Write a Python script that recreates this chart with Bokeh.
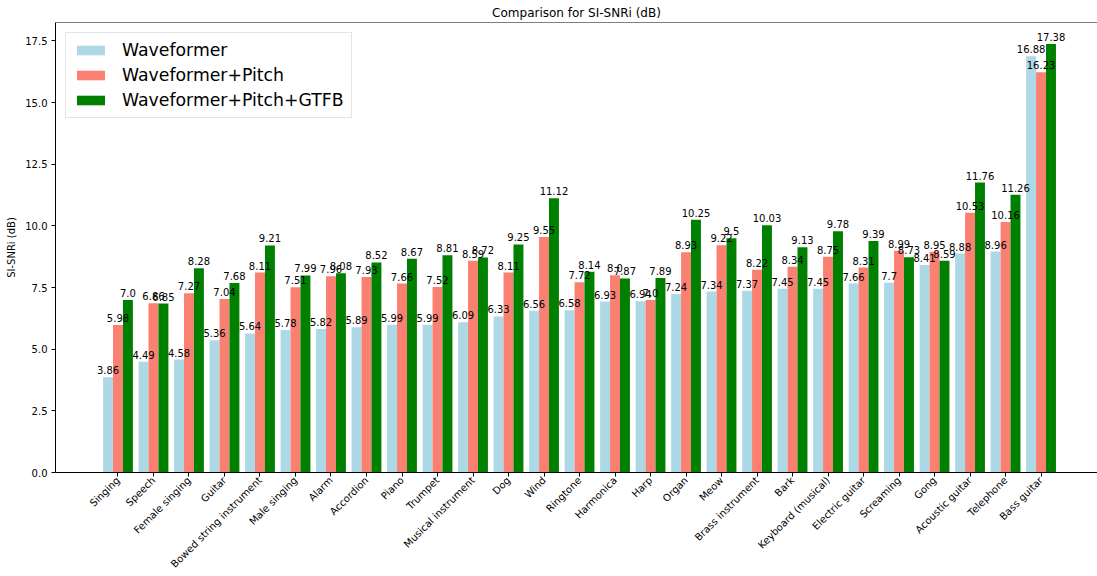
import numpy as np
from bokeh.plotting import figure
from bokeh.models import ColumnDataSource, Range1d, FixedTicker, Span, PrintfTickFormatter
from bokeh.transform import dodge
from bokeh.core.properties import value
from bokeh.embed import file_html
from bokeh.resources import INLINE

categories = ["Singing", "Speech", "Female singing", "Guitar", "Bowed string instrument",
              "Male singing", "Alarm", "Accordion", "Piano", "Trumpet", "Musical instrument",
              "Dog", "Wind", "Ringtone", "Harmonica", "Harp", "Organ", "Meow",
              "Brass instrument", "Bark", "Keyboard (musical)", "Electric guitar",
              "Screaming", "Gong", "Acoustic guitar", "Telephone", "Bass guitar"]
waveformer = [3.86, 4.49, 4.58, 5.36, 5.64, 5.78, 5.82, 5.89, 5.99, 5.99, 6.09, 6.33, 6.56,
              6.58, 6.93, 6.94, 7.24, 7.34, 7.37, 7.45, 7.45, 7.66, 7.7, 8.41, 8.88, 8.96, 16.88]
waveformer_pitch = [5.98, 6.86, 7.27, 7.04, 8.11, 7.51, 7.96, 7.93, 7.66, 7.52, 8.59, 8.11, 9.55,
                    7.72, 8.0, 7.0, 8.93, 9.22, 8.22, 8.34, 8.75, 8.31, 8.99, 8.95, 10.53, 10.16, 16.23]
waveformer_pitch_gtfb = [7.0, 6.85, 8.28, 7.68, 9.21, 7.99, 8.08, 8.52, 8.67, 8.81, 8.72, 9.25, 11.12,
                         8.14, 7.87, 7.89, 10.25, 9.5, 10.03, 9.13, 9.78, 9.39, 8.73, 8.59, 11.76, 11.26, 17.38]
series_names = ["Waveformer", "Waveformer+Pitch", "Waveformer+Pitch+GTFB"]
y_ticks = [0.0, 2.5, 5.0, 7.5, 10.0, 12.5, 15.0, 17.5]
title_text = "Comparison for SI-SNRi (dB)"
y_label = "SI-SNRi (dB)"

FONT = "DejaVu Sans"
BAR_W = 0.28
COLORS = ["#add8e6", "#fa8072", "#008000"]

n = len(categories)
src = ColumnDataSource(dict(
    x=list(range(n)),
    s0=waveformer, s1=waveformer_pitch, s2=waveformer_pitch_gtfb,
    l0=[str(v) for v in waveformer],
    l1=[str(v) for v in waveformer_pitch],
    l2=[str(v) for v in waveformer_pitch_gtfb],
))

ymax = max(max(waveformer), max(waveformer_pitch), max(waveformer_pitch_gtfb)) * 1.05

p = figure(width=1097, height=576, output_backend="svg", toolbar_location=None,
           x_range=Range1d(-1.76, 27.59), y_range=Range1d(0, ymax),
           min_border_left=55, min_border_right=0, min_border_top=22, min_border_bottom=103)

p.title.text = title_text
p.title.align = "center"
p.title.text_font = FONT
p.title.text_font_size = "12px"
p.title.text_font_style = "normal"
p.title.text_color = "black"
p.title.standoff = 5

offsets = [-BAR_W, 0.0, BAR_W]
for i in range(3):
    p.vbar(x=dodge("x", offsets[i], range=p.x_range), top="s%d" % i, width=BAR_W,
           source=src, fill_color=COLORS[i], line_color=None, legend_label=series_names[i])
for i in range(3):
    p.text(x=dodge("x", offsets[i], range=p.x_range), y="s%d" % i, text="l%d" % i,
           source=src, text_font=value(FONT), text_font_size="10px", text_color="black",
           text_align="center", text_baseline="bottom", y_offset=-3)

p.xgrid.visible = False
p.ygrid.visible = False
p.outline_line_color = None
p.add_layout(Span(location=ymax, dimension="width", line_color="black", line_width=1))

for ax in (p.xaxis[0], p.yaxis[0]):
    ax.axis_line_color = "black"
    ax.major_tick_line_color = "black"
    ax.major_tick_out = 4
    ax.major_tick_in = 0
    ax.minor_tick_out = 0
    ax.minor_tick_in = 0
    ax.major_label_text_font = FONT
    ax.major_label_text_font_size = "10px"
    ax.major_label_text_color = "black"

p.xaxis.ticker = FixedTicker(ticks=list(range(n)))
p.xaxis.major_label_overrides = {i: c for i, c in enumerate(categories)}
p.xaxis.major_label_orientation = np.pi / 4
p.xaxis.major_label_standoff = 2

p.yaxis.ticker = FixedTicker(ticks=y_ticks)
p.yaxis.formatter = PrintfTickFormatter(format="%.1f")
p.yaxis.major_label_standoff = 4
p.yaxis.axis_label = y_label
p.yaxis.axis_label_text_font = FONT
p.yaxis.axis_label_text_font_size = "10px"
p.yaxis.axis_label_text_font_style = "normal"
p.yaxis.axis_label_text_color = "black"
p.yaxis.axis_label_standoff = 5

lg = p.legend[0]
lg.location = "top_left"
lg.margin = 10
lg.padding = 7
lg.spacing = 5
lg.label_height = 20
lg.glyph_height = 12
lg.glyph_width = 35
lg.label_standoff = 14
lg.label_text_font = FONT
lg.label_text_font_size = "17.3px"
lg.label_text_color = "black"
lg.border_line_color = "#cccccc"
lg.background_fill_alpha = 0.8

open("out.html", "w").write(file_html(p, INLINE))
